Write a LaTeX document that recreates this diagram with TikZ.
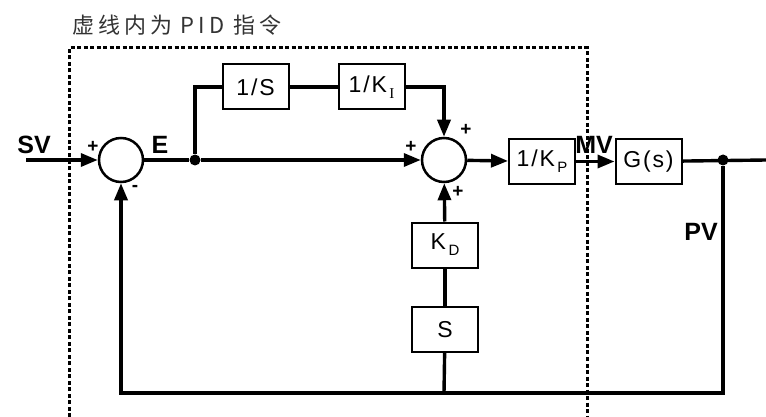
\documentclass[tikz,border=0pt]{standalone}
\usepackage{fontspec}
\setmainfont{Liberation Sans}
\newfontfamily\cjk[LetterSpace=18]{Noto Sans CJK SC}
\newfontfamily\blockfont[LetterSpace=8]{Liberation Sans}
\newfontfamily\idxserif{Liberation Serif}
\usetikzlibrary{arrows.meta}
\newcommand\lowidx[1]{\raisebox{-6pt}{\fontsize{15}{15}\selectfont\,#1}}

\begin{document}
\begin{tikzpicture}[x=1pt, y=-1pt,
    block/.style={draw, line width=2pt, minimum width=66pt, minimum height=45pt, inner sep=0pt, font=\blockfont\fontsize{23}{23}\selectfont},
    sum/.style={draw, circle, line width=2.5pt, minimum size=44pt, inner sep=0pt},
    sig/.style={font=\fontsize{25}{25}\selectfont\bfseries, inner sep=0pt},
    sign/.style={font=\fontsize{19}{19}\selectfont\bfseries, inner sep=0pt},
    wire/.style={line width=3.4pt},
    flow/.style={wire, -{Triangle[length=17pt,width=13pt]}},
    dot/.style={circle, fill, inner sep=0pt, minimum size=11pt},
    pidframe/.style={line width=3pt, dash pattern=on 4pt off 2.5pt}
]
\useasboundingbox (0,0) rectangle (766,417);

% Title and PID frame (bottom runs off the page)
\node[anchor=west, inner sep=0pt, text=black!80, font=\cjk\fontsize{22}{22}\selectfont] (title) at (72,25) {虚线内为 PID 指令};
\draw[pidframe] (69,417) |- (587,48) -- (587,417);

% Summing points and blocks
\node[sum] (s1) at (121,160) {};
\node[sum] (s2) at (444,160) {};
\node[block] (integ) at (255.5,87) {1/S};
\node[block] (ki) at (371.5,87) {1/K\lowidx{\idxserif I}};
\node[block] (kp) at (542,161.5) {1/K\lowidx{P}};
\node[block] (plant) at (648.5,161.5) {G(s)};
\node[block] (kd) at (445,245) {K\lowidx{D}};
\node[block] (sd) at (445,329.5) {S};

% Branch points
\node[dot] (j1) at (195,160) {};
\node[dot] (j2) at (723,160) {};
\coordinate (in) at (26,160);
\coordinate (out) at (766,160);
\coordinate (fb) at (444,393);

% Signals
\draw[flow] (in) -- (s1);
\draw[wire] (s1) -- (j1);
\draw[flow] (j1) -- (s2);
\draw[wire] (j1) |- (integ);
\draw[wire] (integ) -- (ki);
\draw[flow] (ki) -| (s2);
\draw[flow] (s2) -- (kp);
\draw[flow] (kp) -- (plant);
\draw[wire] (plant) -- (out);
\draw[flow] (j2) |- (fb) -| (s1);
\draw[wire] (fb) -- (sd);
\draw[wire] (sd) -- (kd);
\draw[flow] (kd) -- (s2);

% Labels
\node[sig] (sv) at (34,145) {SV};
\node[sig] (e) at (160,145) {E};
\node[sig] (mv) at (594,145) {MV};
\node[sig] (pv) at (701,232) {PV};
\node[sign] (p1) at (93,147) {+};
\node[sign] (m1) at (135,188) {-};
\node[sign] (p2) at (411,147) {+};
\node[sign] (p3) at (466,130) {+};
\node[sign] (p4) at (458,192) {+};
\end{tikzpicture}
\end{document}
